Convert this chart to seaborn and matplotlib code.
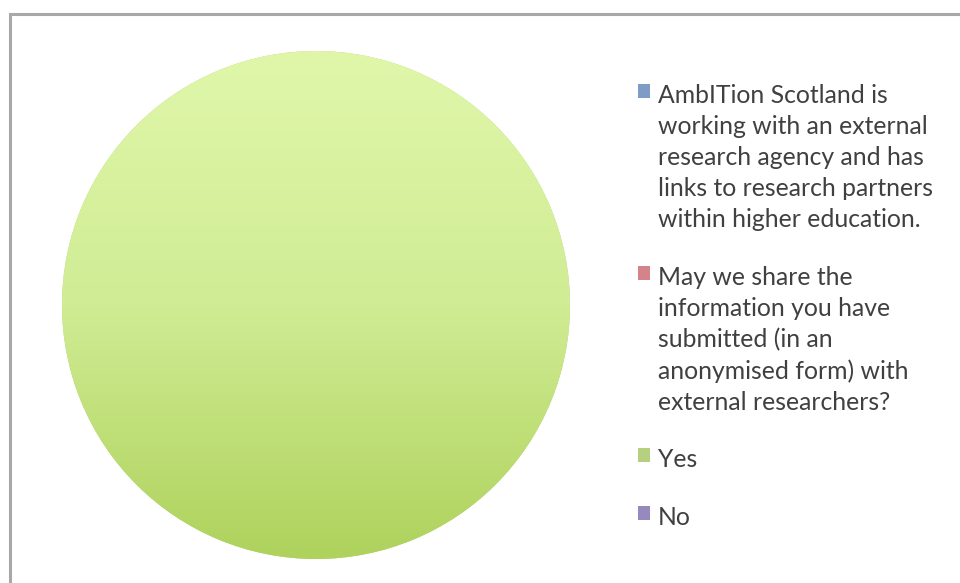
import numpy as np
import matplotlib
matplotlib.use("Agg")
import matplotlib.pyplot as plt
from matplotlib.patches import Patch, Rectangle
import seaborn as sns

# data: every answer was "Yes"
labels = [
    "AmbITion Scotland is\nworking with an external\nresearch agency and has\nlinks to research partners\nwithin higher education.",
    "May we share the\ninformation you have\nsubmitted (in an\nanonymised form) with\nexternal researchers?",
    "Yes",
    "No",
]
values = [0, 0, 100, 0]
colors = ["#7f9cc6", "#d4838a", "#b5d07e", "#9689bd"]

sns.set_theme(style="white")
plt.rcParams["font.family"] = ["Lato", "DejaVu Sans"]

fig = plt.figure(figsize=(9.6, 5.83), dpi=100)
fig.patch.set_facecolor("white")

# outer chart frame (runs off the right and bottom edges)
fig.add_artist(Rectangle((10 / 960, -0.05), 1.0, 1 - 14 / 583 + 0.05,
                         transform=fig.transFigure, fill=False,
                         edgecolor="#a8a8a8", linewidth=2.2))

ax = fig.add_axes([62 / 960, (583 - 559) / 583, 508 / 960, 508 / 583])
wedges, _ = ax.pie(values, colors=colors, startangle=90, counterclock=False,
                   radius=1.0, wedgeprops=dict(linewidth=0))
ax.set_xlim(-1, 1)
ax.set_ylim(-1, 1)
ax.set_aspect("equal")
ax.axis("off")

# vertical light-to-dark shading of the big slice
grad = np.linspace(0, 1, 256).reshape(-1, 1)
cmap = matplotlib.colors.LinearSegmentedColormap.from_list(
    "g", ["#e0f7aa", "#d0ec94", "#aed25c"])
for w, v in zip(wedges, values):
    if v > 0:
        im = ax.imshow(grad, extent=(-1, 1, -1, 1), origin="upper",
                       cmap=cmap, aspect="auto", zorder=w.get_zorder() + 0.1)
        im.set_clip_path(w)

handles = [Patch(facecolor=c, edgecolor="none") for c in colors]
leg = fig.legend(handles, labels, loc="upper left",
                 bbox_to_anchor=(638 / 960, 1 - 84 / 583),
                 frameon=False, fontsize=17.8, handlelength=0.5,
                 handleheight=0.5, handletextpad=0.3, labelspacing=1.4,
                 borderpad=0, borderaxespad=0, labelcolor="#404040")
for t in leg.get_texts():
    t.set_linespacing(1.42)
# put the little square next to the first line of each label
for row in leg._legend_handle_box.get_children():
    for hp in row.get_children():
        hp.align = "top"

fig.savefig("out.png", dpi=100, facecolor="white")
